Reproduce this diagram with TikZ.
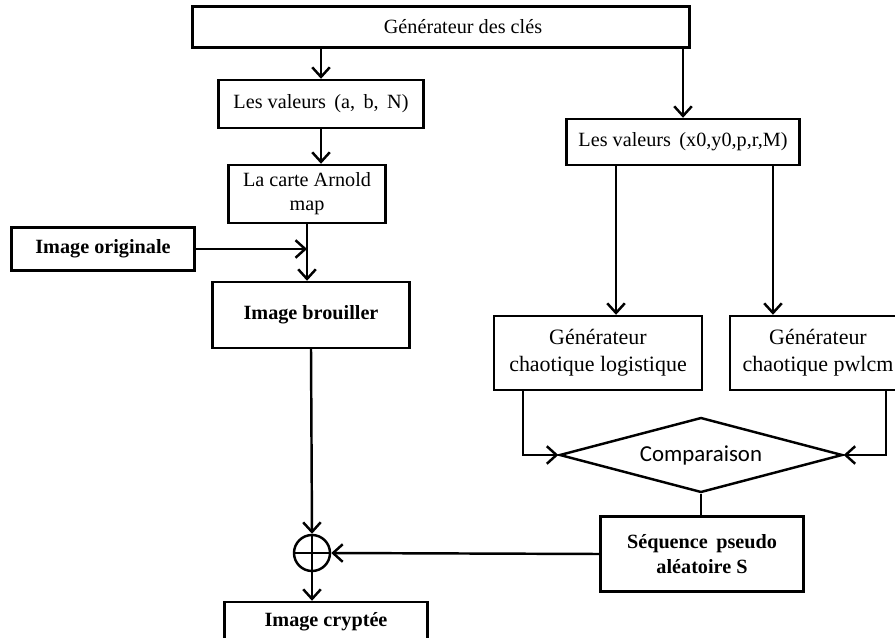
\documentclass[tikz,border=0pt]{standalone}
\usepackage{fontspec}
\setmainfont{Liberation Serif}
\newfontfamily\calibri{Carlito}
\usetikzlibrary{shapes.geometric, positioning, arrows.meta, calc}

\begin{document}
\begin{tikzpicture}[
    x=0.02cm, y=-0.02cm,
    line width=1.4pt,
    box/.style={draw, rectangle, align=center, inner sep=2pt, fill=white, font=\fontsize{11.5}{13.5}\selectfont},
    bbox/.style={box, font=\fontsize{11.5}{14}\selectfont\bfseries},
    gen/.style={box, minimum width=4.16cm, minimum height=1.48cm, font=\fontsize{12.5}{15.5}\selectfont},
    conn/.style={line width=1.4pt, -{Straight Barb[length=5.5pt,width=10pt]}}
]
    \useasboundingbox (0,0) rectangle (895,638);

    % Nodes
    \node[box, minimum width=9.94cm, minimum height=0.82cm] (keys) at (441,27) {\hspace*{0.88cm}Générateur des clés};
    \node[box, minimum width=4.1cm, minimum height=0.96cm] (valab) at (321,104) {Les valeurs \,(a, \,b, \,N)};
    \node[box, minimum width=3.14cm, minimum height=1.16cm] (arnold) at (307,194) {La carte Arnold\\map};
    \node[bbox, minimum width=3.66cm, minimum height=0.86cm] (orig) at (103,249) {Image originale};
    \node[bbox, minimum width=3.94cm, minimum height=1.32cm] (scrambled) at (311,315) {Image brouiller};
    \node[box, minimum width=4.66cm, minimum height=0.92cm] (valx) at (683,142) {Les valeurs \,(x0,y0,p,r,M)};
    \node[gen] (logist) at (598,353) {Générateur\\chaotique logistique};
    \node[gen, minimum width=3.52cm] (pwlcm) at (818,353) {Générateur\\chaotique pwlcm};
    \node[draw, diamond, aspect=3.8, inner sep=0pt, minimum width=5.66cm, minimum height=1.5cm, font=\calibri\fontsize{13}{15}\selectfont] (compar) at (701,455) {Comparaison};
    \node[bbox, minimum width=4.06cm, minimum height=1.5cm] (seq) at (702,554) {Séquence \,pseudo\\aléatoire S};
    \node[draw, circle, minimum size=0.72cm, inner sep=0pt] (xor) at (312,553) {};
    \node[bbox, minimum width=4.06cm, minimum height=0.8cm] (crypt) at (326,622) {Image cryptée};

    % Connections
    \draw[conn] (valab |- keys.south) -- (valab.north);
    \draw[conn] (valx |- keys.south) -- (valx.north);
    \draw[conn] (valab.south) -- (valab.south |- arnold.north);
    \draw[conn] (arnold.south) -- (arnold.south |- scrambled.north);
    \draw[conn] (orig.east) -- (orig.east -| arnold.south);
    \draw[conn] ([xshift=-1.34cm]valx.south) -- ([xshift=-1.34cm]valx.south |- logist.north);
    \draw[conn] ([xshift=1.8cm]valx.south) -- ([xshift=1.8cm]valx.south |- pwlcm.north);
    \draw[conn] ([xshift=-1.5cm]logist.south) |- (compar.west);
    \draw[conn] ([xshift=1.36cm]pwlcm.south) |- (compar.east);
    \draw (compar.south) -- (compar.south |- seq.north);
    \draw[conn] (seq.west) -- (xor.east);
    \draw[conn] (scrambled.south) -- (xor.north);
    \draw (xor.north) -- (xor.south) (xor.west) -- (xor.east);
    \draw[conn] (xor.south) -- (xor.south |- crypt.north);
\end{tikzpicture}
\end{document}
